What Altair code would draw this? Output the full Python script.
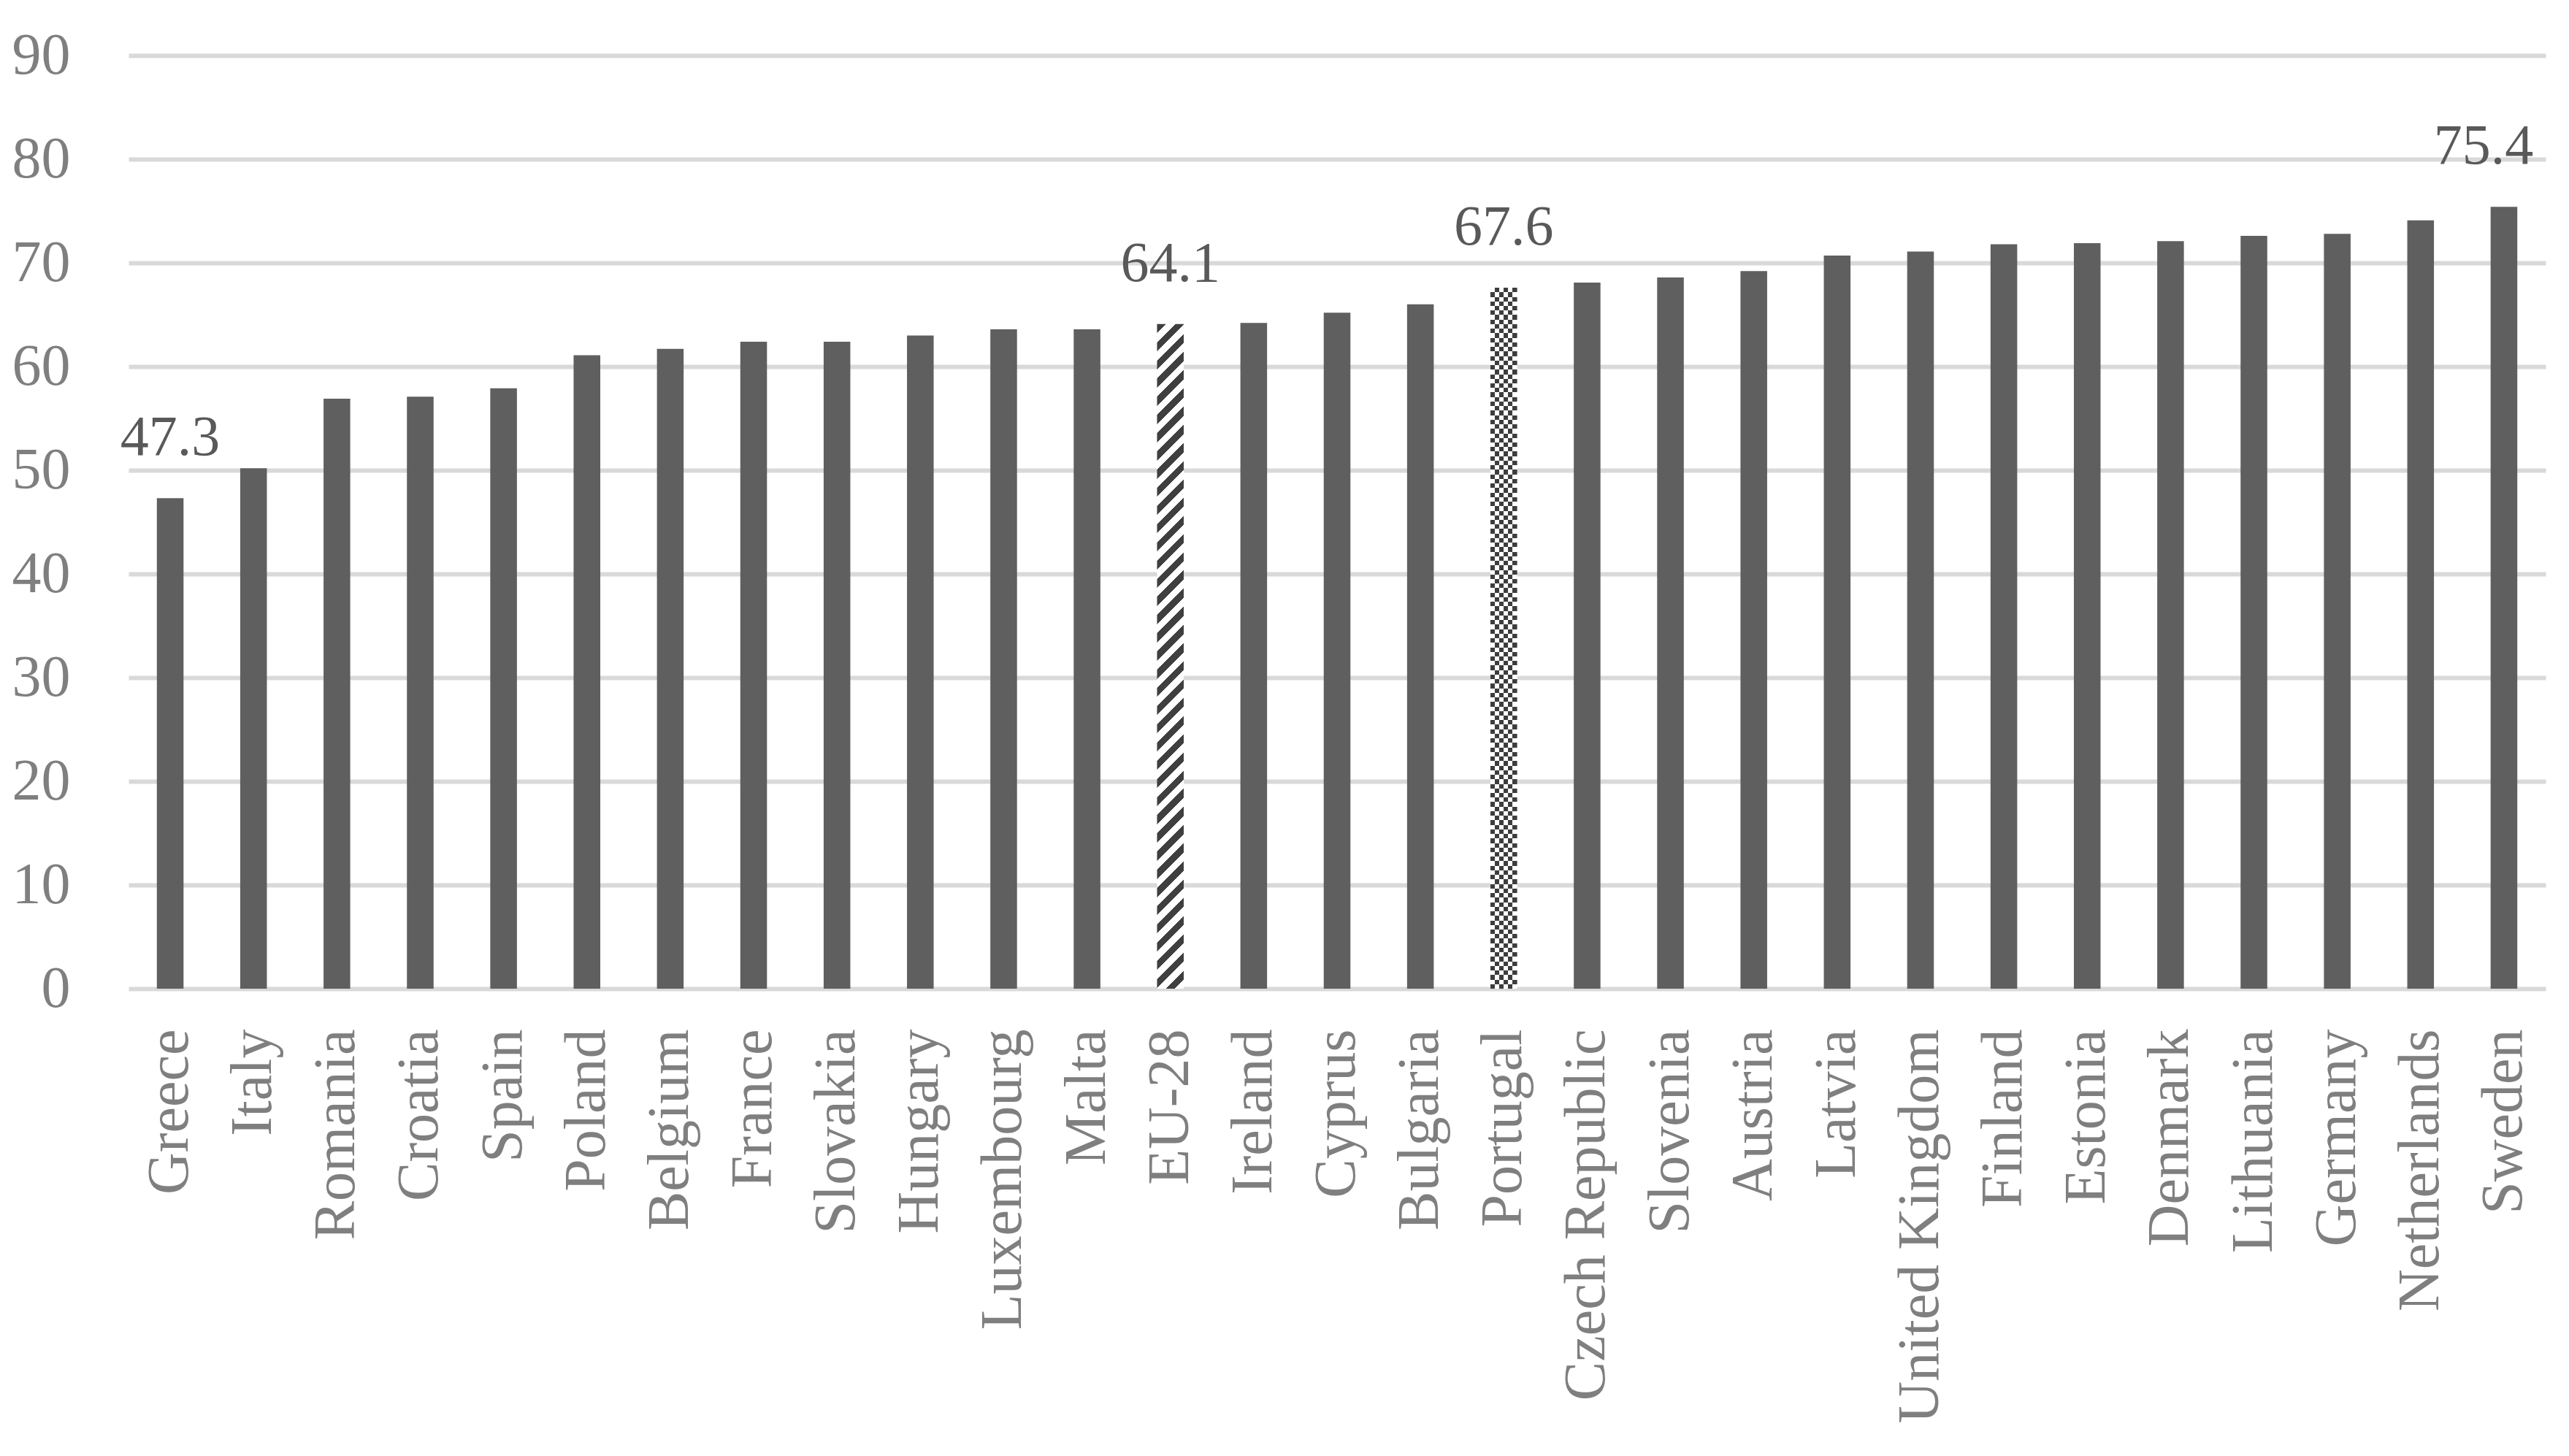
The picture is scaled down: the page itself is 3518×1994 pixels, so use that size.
import math
import altair as alt
import pandas as pd

# ---------------- data ----------------
countries = ["Greece", "Italy", "Romania", "Croatia", "Spain", "Poland", "Belgium",
             "France", "Slovakia", "Hungary", "Luxembourg", "Malta", "EU-28", "Ireland",
             "Cyprus", "Bulgaria", "Portugal", "Czech Republic", "Slovenia", "Austria",
             "Latvia", "United Kingdom", "Finland", "Estonia", "Denmark", "Lithuania",
             "Germany", "Netherlands", "Sweden"]
values = [47.3, 50.2, 56.9, 57.1, 57.9, 61.1, 61.7, 62.4, 62.4, 63.0, 63.6, 63.6, 64.1,
          64.2, 65.2, 66.0, 67.6, 68.1, 68.6, 69.2, 70.7, 71.1, 71.8, 71.9, 72.1, 72.6,
          72.8, 74.1, 75.4]
labelled = ["Greece", "EU-28", "Portugal"]
labelled_shifted = ["Sweden"]
y_ticks = [0, 10, 20, 30, 40, 50, 60, 70, 80, 90]

df = pd.DataFrame({"country": countries, "value": values})

# ---------------- layout / style ----------------
PLOT_W, PLOT_H = 3310, 1278
Y_MAX = 90
PAD_INNER = 0.68
STEP = PLOT_W / len(countries)
BAR_W = STEP * (1 - PAD_INNER)
FONT = "Liberation Serif"
BAR_COLOR = "#5f5f5f"
PAT_DARK = "#3f3f3f"


def stripe_gradient(n, c1, c2, x2, y2, duty=0.5):
    stops = []
    for k in range(n):
        a = k / n
        b = (k + duty) / n
        c = (k + 1) / n
        stops += [
            alt.GradientStop(offset=a, color=c1),
            alt.GradientStop(offset=b, color=c1),
            alt.GradientStop(offset=b, color=c2),
            alt.GradientStop(offset=c, color=c2),
        ]
    return alt.LinearGradient(gradient="linear", stops=stops, x1=0, y1=0, x2=x2, y2=y2)


# diagonal stripes for EU-28
v_eu = values[countries.index("EU-28")]
h_eu = v_eu / Y_MAX * PLOT_H
a = BAR_W / h_eu
s = (a + 1) / (a * a + 1)
n_diag = int(round(h_eu * (1 + a) / 25.0))
diag_grad = stripe_gradient(n_diag, PAT_DARK, "#ffffff", a * s, s)

# checker board for Portugal (XOR of two stripe sets via difference blend)
v_pt = values[countries.index("Portugal")]
h_pt = v_pt / Y_MAX * PLOT_H
n_rows = int(round(h_pt / 12.5))
n_cols = max(1, int(round(BAR_W / 12.0)))
rows_grad = stripe_gradient(n_rows, "#000000", "#ffffff", 0, 1)
cols_grad = stripe_gradient(n_cols, "#ffffff", "#000000", 1, 0)

x_enc = alt.X(
    "country:N",
    sort=countries,
    scale=alt.Scale(domain=countries, paddingInner=PAD_INNER, paddingOuter=PAD_INNER / 2),
    axis=alt.Axis(
        title=None, labelAngle=-90, labelAlign="right", labelBaseline="middle",
        labelPadding=55, ticks=False, domain=False, grid=False, labelLimit=2000,
        labelFont=FONT, labelFontSize=80, labelColor="#7f7f7f", labelOverlap=False,
    ),
)
y_enc = alt.Y(
    "value:Q",
    scale=alt.Scale(domain=[0, Y_MAX], nice=False, zero=True),
    axis=alt.Axis(
        title=None, values=y_ticks, grid=True, gridColor="#d9d9d9", gridWidth=6,
        ticks=False, domain=False, labelPadding=80,
        labelFont=FONT, labelFontSize=80, labelColor="#7f7f7f",
    ),
)

base = alt.Chart(df).encode(x=x_enc, y=y_enc)

plain = base.transform_filter(
    "datum.country != 'EU-28' && datum.country != 'Portugal'"
).mark_bar(color=BAR_COLOR)

eu = base.transform_filter("datum.country == 'EU-28'").mark_bar(color=diag_grad)

pt1 = base.transform_filter("datum.country == 'Portugal'").mark_bar(color=rows_grad)
pt2 = base.transform_filter("datum.country == 'Portugal'").mark_bar(color=cols_grad, blend="difference")
pt3 = base.transform_filter("datum.country == 'Portugal'").mark_bar(color="#ffffff", opacity=0.24)

labels = base.transform_filter(
    alt.FieldOneOfPredicate(field="country", oneOf=labelled)
).mark_text(font=FONT, fontSize=78, color="#595959", baseline="alphabetic", align="center", dy=-59).encode(
    text=alt.Text("value:Q", format=".1f")
)
labels2 = base.transform_filter(
    alt.FieldOneOfPredicate(field="country", oneOf=labelled_shifted)
).mark_text(font=FONT, fontSize=78, color="#595959", baseline="alphabetic", align="center", dy=-59, dx=-28).encode(
    text=alt.Text("value:Q", format=".1f")
)

chart = alt.layer(plain, eu, pt1, pt2, pt3, labels, labels2).properties(
    width=PLOT_W,
    height=PLOT_H,
    padding={"left": 168, "top": 68, "right": 20, "bottom": 628},
    autosize="none",
    background="#ffffff",
).configure_view(stroke=None)

chart.save("out.html", embed_options={"renderer": "svg", "actions": False})
